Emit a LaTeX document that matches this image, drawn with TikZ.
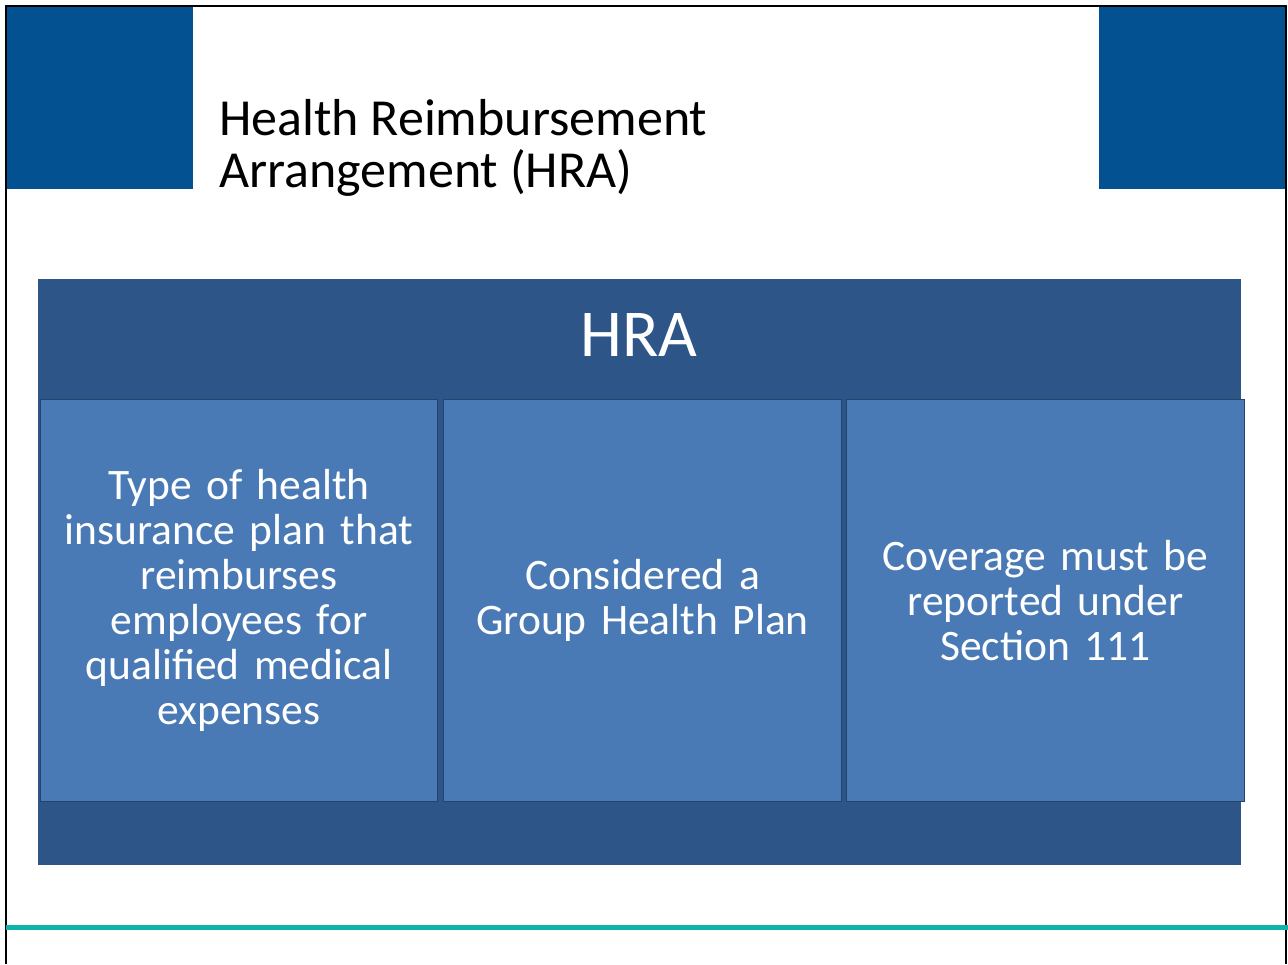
\documentclass[tikz,border=0pt]{standalone}
\usepackage{fontspec}
\setmainfont{Carlito}
\definecolor{corner}{RGB}{3,81,145}
\definecolor{darkbox}{RGB}{46,85,135}
\definecolor{subbox}{RGB}{74,122,182}
\definecolor{teal}{RGB}{14,180,170}
\begin{document}
\begin{tikzpicture}[x=1pt,y=-1pt,
  cornerblock/.style={fill=corner,draw=none},
  subcell/.style={fill=subbox,draw=darkbox!80!black,line width=1pt,anchor=north west,inner sep=0pt,
    text=white,align=center,font=\fontsize{43.5}{45}\selectfont},
]
\useasboundingbox (0,0) rectangle (1288,964);
\fill[white] (0,0) rectangle (1288,964);
% frame
\draw[black,line width=2pt] (6,964) -- (6,6) -- (1286,6) -- (1286,964);
% corner blocks
\fill[cornerblock] (7,7) rectangle (193,189);
\fill[cornerblock] (1099,7) rectangle (1285,189);
% title
\node[anchor=base west,inner sep=0pt,align=left,font=\fontsize{52}{52}\selectfont] (title) at (219,187)
  {Health Reimbursement\\Arrangement (HRA)};
% big box
\node[fill=darkbox,minimum width=1203pt,minimum height=586pt,anchor=north west,inner sep=0pt] (big) at (38,279) {};
\node[text=white,font=\fontsize{67}{70}\selectfont,anchor=base] (hra) at (639,356) {HRA};
% sub boxes
\node[subcell,minimum width=397pt,minimum height=402pt,text width=390pt] (b1) at (40,399)
  {Type of health\\insurance plan that\\reimburses\\employees for\\qualified medical\\expenses};
\node[subcell,minimum width=398pt,minimum height=402pt,text width=390pt] (b2) at (443,399)
  {Considered a\\Group Health Plan};
\node[subcell,minimum width=398pt,minimum height=402pt,text width=390pt] (b3) at (846,399)
  {Coverage must be\\reported under\\Section 111};
% teal line
\draw[teal,line width=5pt] (6,927) -- (1288,927);
\end{tikzpicture}
\end{document}
